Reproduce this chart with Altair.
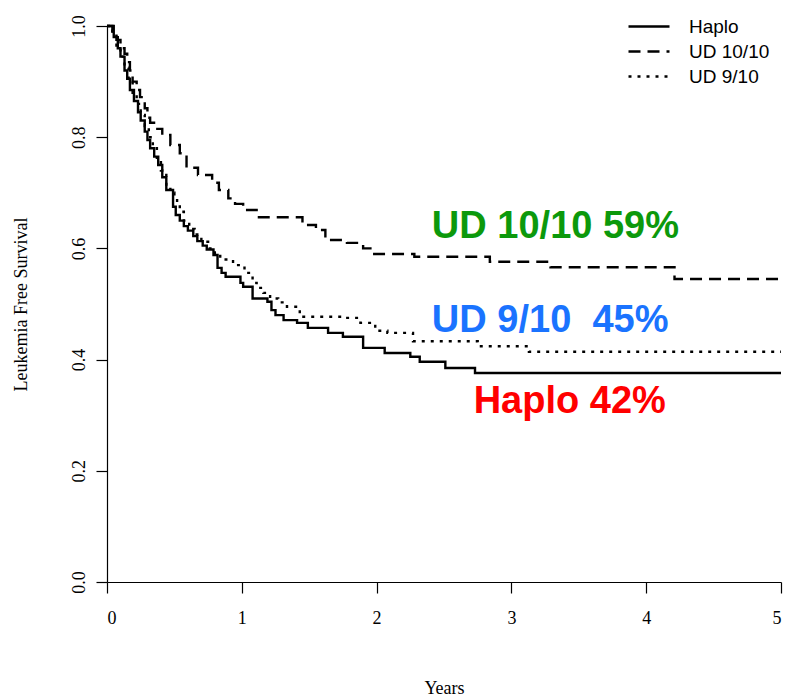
import altair as alt
import pandas as pd

# Kaplan-Meier step points (years, leukemia-free survival) per donor group
haplo_t = [0.0, 0.03, 0.05, 0.08, 0.10, 0.13, 0.15, 0.17, 0.20, 0.23, 0.25, 0.28, 0.30,
           0.32, 0.35, 0.38, 0.41, 0.44, 0.49, 0.51, 0.54, 0.57, 0.60, 0.64, 0.67, 0.71,
           0.74, 0.79, 0.82, 0.85, 0.88, 0.99, 1.01, 1.08, 1.19, 1.22, 1.25, 1.31, 1.41,
           1.49, 1.64, 1.75, 1.90, 2.06, 2.25, 2.32, 2.51, 2.73, 5.0]
haplo_s = [1.0, 1.0, 0.98, 0.96, 0.945, 0.92, 0.905, 0.885, 0.865, 0.845, 0.83, 0.81, 0.795,
           0.78, 0.765, 0.75, 0.728, 0.705, 0.675, 0.66, 0.65, 0.64, 0.632, 0.622, 0.613, 0.605,
           0.598, 0.588, 0.565, 0.556, 0.549, 0.538, 0.531, 0.51, 0.504, 0.489, 0.48, 0.471, 0.466,
           0.457, 0.448, 0.441, 0.421, 0.412, 0.405, 0.396, 0.385, 0.376, 0.376]

ud1010_t = [0.0, 0.04, 0.07, 0.10, 0.13, 0.15, 0.17, 0.19, 0.22, 0.245, 0.28, 0.30, 0.32,
            0.36, 0.41, 0.47, 0.54, 0.59, 0.675, 0.78, 0.83, 0.90, 0.95, 1.01, 1.11, 1.45,
            1.55, 1.62, 1.78, 1.90, 1.97, 2.28, 2.84, 3.29, 4.21, 5.0]
ud1010_s = [1.0, 0.99, 0.975, 0.96, 0.95, 0.935, 0.92, 0.90, 0.885, 0.872, 0.852, 0.835, 0.826,
            0.815, 0.804, 0.786, 0.771, 0.745, 0.732, 0.718, 0.705, 0.69, 0.68, 0.669, 0.656, 0.642,
            0.633, 0.615, 0.61, 0.60, 0.59, 0.585, 0.576, 0.566, 0.545, 0.545]

ud910_t = [0.0, 0.04, 0.07, 0.10, 0.13, 0.16, 0.19, 0.22, 0.25, 0.28, 0.31, 0.34, 0.37, 0.40,
           0.44, 0.47, 0.50, 0.52, 0.54, 0.57, 0.61, 0.65, 0.70, 0.75, 0.80, 0.84, 0.935, 1.02,
           1.08, 1.11, 1.16, 1.21, 1.27, 1.335, 1.43, 1.75, 1.88, 1.99, 2.08, 2.27, 2.75, 3.13, 5.0]
ud910_s = [1.0, 0.985, 0.965, 0.945, 0.925, 0.905, 0.88, 0.86, 0.84, 0.82, 0.80, 0.78, 0.76, 0.74,
           0.715, 0.70, 0.69, 0.68, 0.666, 0.65, 0.635, 0.625, 0.612, 0.60, 0.59, 0.58, 0.57, 0.556,
           0.538, 0.529, 0.52, 0.51, 0.503, 0.495, 0.477, 0.475, 0.466, 0.452, 0.448, 0.433, 0.424,
           0.414, 0.414]

groups = ["Haplo", "UD 10/10", "UD 9/10"]
dashes = [[1, 0], [12, 7], [3, 6]]

# In-plot estimates at 2 years (non-breaking space keeps the wide gap)
note_text = ["UD 10/10 59%", "UD 9/10\u00a0 45%", "Haplo 42%"]
note_t = [2.41, 2.41, 2.72]
note_s = [0.619, 0.45, 0.304]
note_color = ["#0c990c", "#1a73ff", "#ff0000"]

rows = []
for g, ts, ss in [("Haplo", haplo_t, haplo_s), ("UD 10/10", ud1010_t, ud1010_s),
                  ("UD 9/10", ud910_t, ud910_s)]:
    for t, s in zip(ts, ss):
        rows.append({"group": g, "t": t, "s": s})
curves = pd.DataFrame(rows)
notes = pd.DataFrame({"label": note_text, "t": note_t, "s": note_s, "color": note_color})

x_enc = alt.X("t:Q", scale=alt.Scale(domain=[0, 5], nice=False, zero=False),
              axis=alt.Axis(values=[0, 1, 2, 3, 4, 5], format="d", title="Years",
                            labelPadding=16, titlePadding=52))
y_enc = alt.Y("s:Q", scale=alt.Scale(domain=[0, 1], nice=False),
              axis=alt.Axis(values=[0, 0.2, 0.4, 0.6, 0.8, 1.0], format=".1f",
                            title="Leukemia Free Survival", labelAngle=270,
                            labelAlign="center", labelBaseline="bottom",
                            labelPadding=8, titlePadding=40))

lines = alt.Chart(curves).mark_line(interpolate="step-after", color="black",
                                    strokeWidth=2.4).encode(
    x=x_enc,
    y=y_enc,
    detail="group:N",
    strokeDash=alt.StrokeDash(
        "group:N",
        scale=alt.Scale(domain=groups, range=dashes),
        legend=alt.Legend(title=None, orient="none", legendX=520, legendY=-12,
                          symbolType="stroke", symbolSize=1681, symbolStrokeWidth=2.5,
                          symbolStrokeColor="black", labelFont="Liberation Sans",
                          labelFontSize=19, labelColor="black", labelOffset=18,
                          clipHeight=25, rowPadding=0, padding=0),
    ),
)

labels = alt.Chart(notes).mark_text(align="left", baseline="alphabetic", fontSize=38,
                                    fontWeight="bold", font="Liberation Sans").encode(
    x="t:Q",
    y="s:Q",
    text="label:N",
    color=alt.Color("color:N", scale=None),
)

chart = (lines + labels).properties(
    width=674, height=556,
    autosize=alt.AutoSizeParams(type="none"),
    padding={"left": 107, "top": 26, "right": 8, "bottom": 118},
    background="white",
).configure_view(stroke=None).configure_axis(
    grid=False, domainColor="black", domainWidth=1.2, tickColor="black", tickWidth=1.2,
    tickSize=11, labelFont="Liberation Serif", labelFontSize=18, labelColor="black",
    titleFont="Liberation Serif", titleFontSize=18, titleFontWeight="normal",
    titleColor="black",
)

chart.save("out.html", embed_options={"renderer": "svg", "actions": False})
